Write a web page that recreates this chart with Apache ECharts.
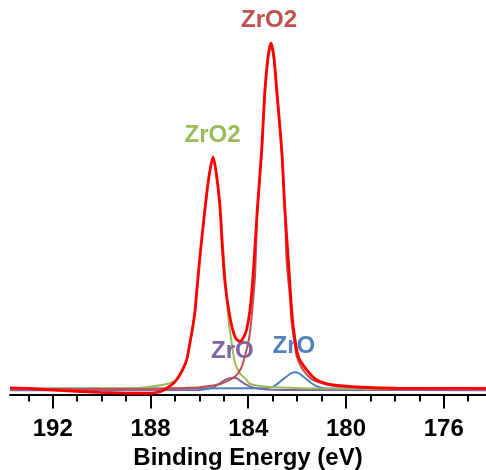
<!DOCTYPE html>
<html>
<head>
<meta charset="utf-8">
<script src="https://cdn.jsdelivr.net/npm/echarts@6/dist/echarts.min.js"></script>
<style>
  html, body { margin: 0; padding: 0; background: #fff; }
  #chart { width: 486px; height: 470px; }
</style>
</head>
<body>
<div id="chart"></div>
<script>
  // binding energy (eV), intensity (arb. units, big peak = 100)
  const envelope = [
    [193.75, 0.29], [192.93, 0.14], [191.7, -0.43], [190.07, -1.0], [188.84, -1.24], [188.02, -1.24],
    [187.61, -0.78], [187.34, 0.2], [187.0, 2.1], [186.73, 5.0], [186.52, 8.4], [186.39, 13.2],
    [186.27, 18.0], [186.18, 22.5], [186.11, 28.0], [185.95, 40.2], [185.73, 54.6], [185.59, 62.2],
    [185.44, 67.1], [185.3, 62.0], [185.16, 53.0], [185.06, 41.0], [184.95, 30.6], [184.75, 20.8],
    [184.54, 15.0], [184.34, 13.7], [184.2, 14.8], [184.07, 17.1], [183.93, 22.8], [183.8, 33.0],
    [183.63, 51.7], [183.45, 69.1], [183.32, 86.0], [183.19, 96.0], [183.07, 100], [182.95, 96.0],
    [182.83, 86.0], [182.63, 69.1], [182.5, 51.7], [182.36, 37.3], [182.25, 25.5], [182.16, 18.0],
    [181.95, 9.3], [181.61, 5.5], [181.2, 2.6], [180.53, 1.16], [179.31, 0.5], [177.92, 0.2],
    [174.27, 0.15]
  ]
  const zro2Main = [
    [193.75, 0.0], [188.0, 0.05], [186.6, 0.3], [185.98, 0.5], [185.09, 1.6], [184.54, 3.6],
    [184.27, 6.4], [184.07, 11.3], [183.93, 16.2], [183.8, 25.7], [183.72, 33.0], [183.63, 51.0],
    [183.45, 68.5], [183.32, 85.5], [183.19, 95.5], [183.07, 99.5], [182.95, 95.5], [182.83, 85.5],
    [182.63, 68.5], [182.5, 51.0], [182.43, 37.0], [182.3, 27.0], [182.22, 19.0], [182.1, 13.0],
    [182.02, 9.5], [181.82, 6.2], [181.62, 4.3], [181.4, 2.8], [181.0, 1.7], [180.6, 1.0],
    [180.0, 0.55], [179.0, 0.25], [177.0, 0.1], [174.27, 0.05]
  ]
  const zro2Side = [
    [193.75, 0.0], [193.0, 0.05], [190.5, 0.15], [188.84, 0.2], [188.02, 0.66], [187.34, 1.44],
    [186.93, 2.6], [186.73, 4.6], [186.52, 8.3], [186.39, 13.0], [186.27, 17.8], [186.18, 22.3],
    [186.11, 27.8], [185.95, 40.0], [185.73, 54.3], [185.59, 61.8], [185.44, 66.6], [185.3, 61.4],
    [185.16, 52.6], [185.02, 40.2], [184.82, 20.9], [184.68, 13.3], [184.54, 7.5], [184.34, 4.5],
    [184.07, 2.6], [183.93, 1.5], [183.52, 0.87], [182.7, 0.4], [181.07, 0.1], [178.0, 0.02],
    [174.27, 0.0]
  ]
  const zroSide = [
    [193.75, -0.35], [186.0, -0.3], [185.6, 0.1], [185.36, 0.7], [185.15, 1.7], [184.95, 2.6],
    [184.75, 3.1], [184.6, 3.25], [184.45, 3.0], [184.28, 2.1], [184.07, 1.2], [183.82, 0.4],
    [183.5, 0.0], [183.0, -0.2], [182.0, -0.3], [174.27, -0.35]
  ]
  const zroMain = [
    [193.75, 0.15], [183.4, 0.2], [183.2, 0.35], [182.98, 0.66], [182.7, 2.1], [182.43, 3.6],
    [182.25, 4.5], [182.09, 4.8], [181.92, 4.5], [181.75, 3.6], [181.41, 1.65], [181.07, 0.43],
    [180.7, 0.15], [174.27, 0.15]
  ]

  const majorTicks = [176, 180, 184, 188, 192]
  const minorTicks = [175, 176, 177, 178, 179, 180, 181, 182, 183, 184, 185, 186, 187, 188, 189, 190, 191, 192, 193]

  const labelNames = ['ZrO2', 'ZrO2', 'ZrO', 'ZrO']
  const labelCoords = [[183.15, 106.6], [185.46, 73.4], [184.65, 11.0], [182.13, 12.4]]
  const labelColors = ['#c0504d', '#9bbb59', '#8064a2', '#4f81bd']

  const font = '"Liberation Sans", Arial, sans-serif'

  const lineSeries = (name, data, color, width, mpIndex) => ({
    name,
    type: 'line',
    data,
    showSymbol: false,
    smooth: 0.25,
    lineStyle: { color, width },
    z: width > 2 ? 5 : 3,
    markPoint: mpIndex == null ? undefined : {
      symbolSize: 0,
      silent: true,
      label: {
        show: true,
        position: 'inside',
        formatter: labelNames[mpIndex],
        color: labelColors[mpIndex],
        fontSize: 24,
        fontWeight: 'bold',
        fontFamily: font,
      },
      data: [{ coord: labelCoords[mpIndex] }],
    },
  })

  const chart = echarts.init(document.getElementById('chart'))
  chart.setOption({
    animation: false,
    backgroundColor: '#fff',
    grid: {
      left: 10,
      right: 0,
      top: 8.4,
      bottom: 75.5,
      outerBoundsMode: 'none',
    },
    xAxis: [
      {
        type: 'value',
        inverse: true,
        min: 174.27,
        max: 193.75,
        name: 'Binding Energy (eV)',
        nameLocation: 'middle',
        nameGap: 52,
        nameTextStyle: {
          color: '#000',
          fontSize: 24,
          fontWeight: 'bold',
          fontFamily: font,
        },
        axisLine: { onZero: false, lineStyle: { color: '#000', width: 2 } },
        axisTick: { customValues: majorTicks, length: 14, lineStyle: { color: '#000', width: 2 } },
        axisLabel: {
          customValues: majorTicks,
          margin: 23,
          color: '#000',
          fontSize: 24,
          fontWeight: 'bold',
          fontFamily: font,
        },
        splitLine: { show: false },
      },
      {
        type: 'value',
        inverse: true,
        min: 174.27,
        max: 193.75,
        position: 'bottom',
        axisLine: { show: false, onZero: false },
        axisTick: { customValues: minorTicks, length: 7, lineStyle: { color: '#000', width: 2 } },
        axisLabel: { show: false },
        splitLine: { show: false },
      },
    ],
    yAxis: {
      type: 'value',
      min: -1.6,
      max: 110,
      show: false,
    },
    series: [
      lineSeries('ZrO 3d3/2', zroSide, '#8064a2', 2, 2),
      lineSeries('ZrO 3d5/2', zroMain, '#4f81bd', 2, 3),
      lineSeries('ZrO2 3d3/2', zro2Side, '#9bbb59', 2, 1),
      lineSeries('ZrO2 3d5/2', zro2Main, '#c0504d', 2, 0),
      lineSeries('Envelope', envelope, '#ff0000', 2.8),
    ],
  })
</script>
</body>
</html>
